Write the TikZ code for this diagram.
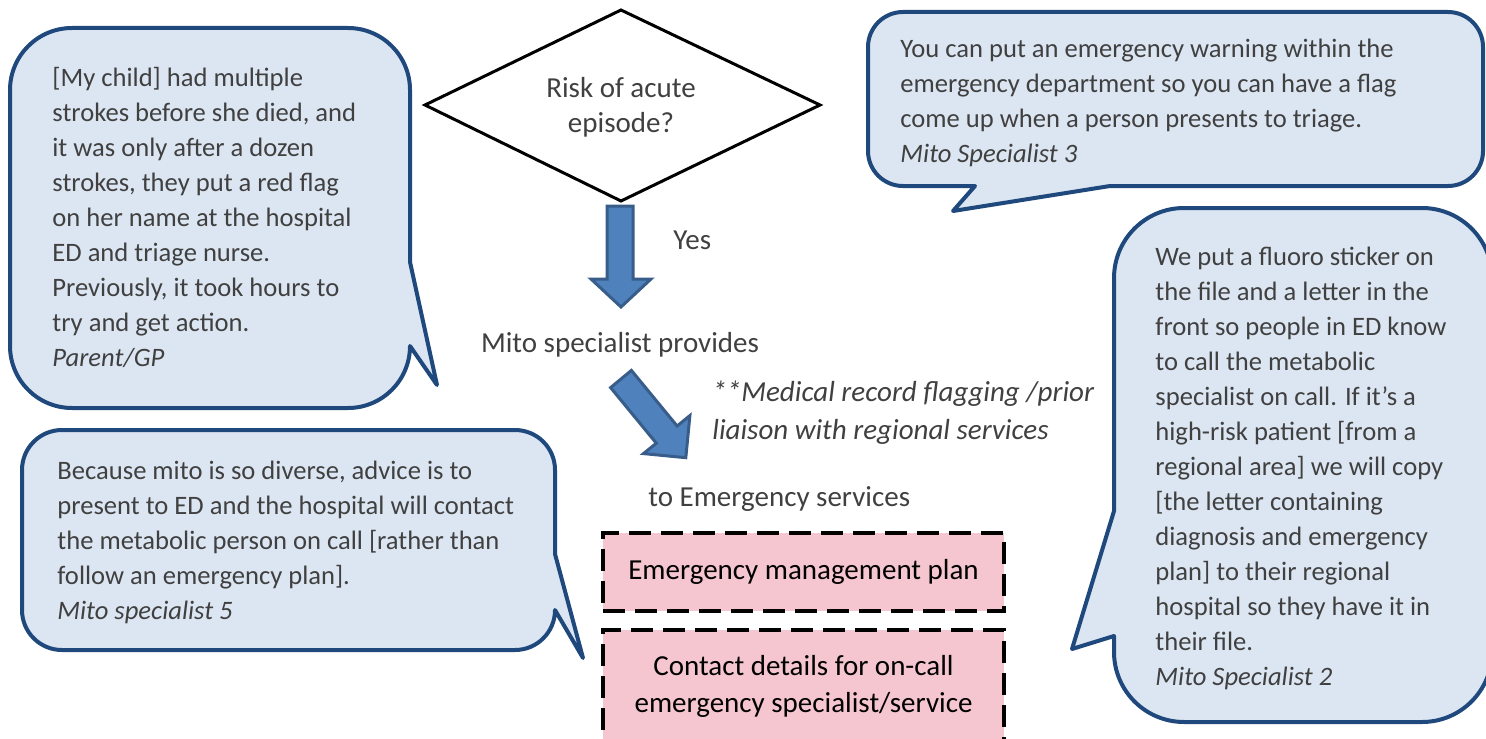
\documentclass[tikz,border=0pt]{standalone}
\usepackage{fontspec}
\setmainfont{Carlito}
\definecolor{cfill}{HTML}{DCE6F2}
\definecolor{cline}{HTML}{1F497D}
\definecolor{tgray}{HTML}{404040}
\definecolor{afill}{HTML}{4F81BD}
\definecolor{aline}{HTML}{385D8A}
\definecolor{pink}{HTML}{F5C6D0}
\begin{document}
\begin{tikzpicture}[x=0.5pt,y=-0.5pt,
  callout/.style={fill=cfill,draw=cline,line width=2pt,line join=round},
  ctext/.style={anchor=north west,inner sep=0pt,align=left,text=tgray,font=\fontsize{13.3}{17.5}\selectfont},
  mtext/.style={inner sep=0pt,text=tgray,font=\fontsize{14.5}{17.5}\selectfont},
  blockarrow/.style={fill=afill,draw=aline,line width=1.5pt,line join=miter},
  dashbox/.style={draw=black,fill=pink,line width=2pt,dash pattern=on 11pt off 5pt,
    minimum width=200.5pt,inner sep=0pt,align=center,font=\fontsize{14.5}{18.5}\selectfont}
]
\clip (0,0) rectangle (1486,738);

% callout 1 (top left)
\draw[callout] (72,28) -- (348,28) arc[start angle=-90,end angle=0,radius=62]
  -- (410,262) -- (437,385) -- (410,346)
  arc[start angle=0,end angle=90,radius=62] -- (72,408)
  arc[start angle=90,end angle=180,radius=62] -- (10,90)
  arc[start angle=180,end angle=270,radius=62] -- cycle;
\node[ctext] (q1) at (52,67) {[My child] had multiple\\strokes before she died, and\\it was only after a dozen\\strokes, they put a red flag\\on her name at the hospital\\ED and triage nurse.\\Previously, it took hours to\\try and get action.\\\textit{Parent/GP}};

% callout 2 (top right)
\draw[callout] (903,12) -- (1448,12) arc[start angle=-90,end angle=0,radius=35]
  -- (1483,151) arc[start angle=0,end angle=90,radius=35]
  -- (1110,186) -- (953,211) -- (975,186) -- (903,186)
  arc[start angle=90,end angle=180,radius=35] -- (868,47)
  arc[start angle=180,end angle=270,radius=35] -- cycle;
\node[ctext] (q2) at (900,39) {You can put an emergency warning within the\\emergency department so you can have a flag\\come up when a person presents to triage.\\\textit{Mito Specialist 3}};

% callout 3 (right)
\draw[callout] (1184,208) -- (1422,208) arc[start angle=-90,end angle=0,radius=70]
  -- (1492,652) arc[start angle=0,end angle=90,radius=70]
  -- (1184,722) arc[start angle=90,end angle=180,radius=70]
  -- (1114,636) -- (1072,649) -- (1114,511) -- (1114,278)
  arc[start angle=180,end angle=270,radius=70] -- cycle;
\node[ctext] (q3) at (1155,247) {We put a fluoro sticker on\\the file and a letter in the\\front so people in ED know\\to call the metabolic\\specialist on call. If it’s a\\high-risk patient [from a\\regional area] we will copy\\{}[the letter containing\\diagnosis and emergency\\plan] to their regional\\hospital so they have it in\\their file.\\\textit{Mito Specialist 2}};

% callout 4 (bottom left)
\draw[callout] (62,430) -- (515,430) arc[start angle=-90,end angle=0,radius=40]
  -- (555,554) -- (583,658) -- (555,610)
  arc[start angle=0,end angle=90,radius=40] -- (62,650)
  arc[start angle=90,end angle=180,radius=40] -- (22,470)
  arc[start angle=180,end angle=270,radius=40] -- cycle;
\node[ctext] (q4) at (57,461) {Because mito is so diverse, advice is to\\present to ED and the hospital will contact\\the metabolic person on call [rather than\\follow an emergency plan].\\\textit{Mito specialist 5}};

% decision diamond
\coordinate (dT) at (621,10);
\coordinate (dR) at (820,105);
\coordinate (dB) at (621,201);
\coordinate (dL) at (425,105);
\draw[line width=1.5pt,line join=miter,fill=white] (dT) -- (dR) -- (dB) -- (dL) -- cycle;
\node[mtext,align=center] (risk) at (621,107) {Risk of acute\\episode?};

% down block arrow
\draw[blockarrow] (607,206) -- (633,206) -- (633,279) -- (651,279) -- (621,307)
  -- (591,279) -- (607,279) -- cycle;
\node[mtext,anchor=west] (yes) at (673,240) {Yes};

\node[mtext] (prov) at (620,345) {Mito specialist provides};

% diagonal block arrow
\draw[blockarrow] (631.4,370.4) -- (677.1,426.0) -- (689.9,415.6) -- (685.8,457.7)
  -- (643.5,453.6) -- (656.3,443.2) -- (610.6,387.6) -- cycle;
\node[anchor=north west,inner sep=0pt,align=left,text=tgray,font=\fontsize{14.5}{19}\selectfont\itshape] (flag) at (712,381) {**Medical record flagging /prior\\liaison with regional services};

\node[mtext,anchor=west] (toes) at (648,499) {to Emergency services};

% dashed boxes
\node[dashbox,minimum height=39pt] (plan) at (803.5,572) {Emergency management plan};
\node[dashbox,minimum height=56pt] (contact) at (803.5,686) {Contact details for on-call\\emergency specialist/service};
\end{tikzpicture}
\end{document}
